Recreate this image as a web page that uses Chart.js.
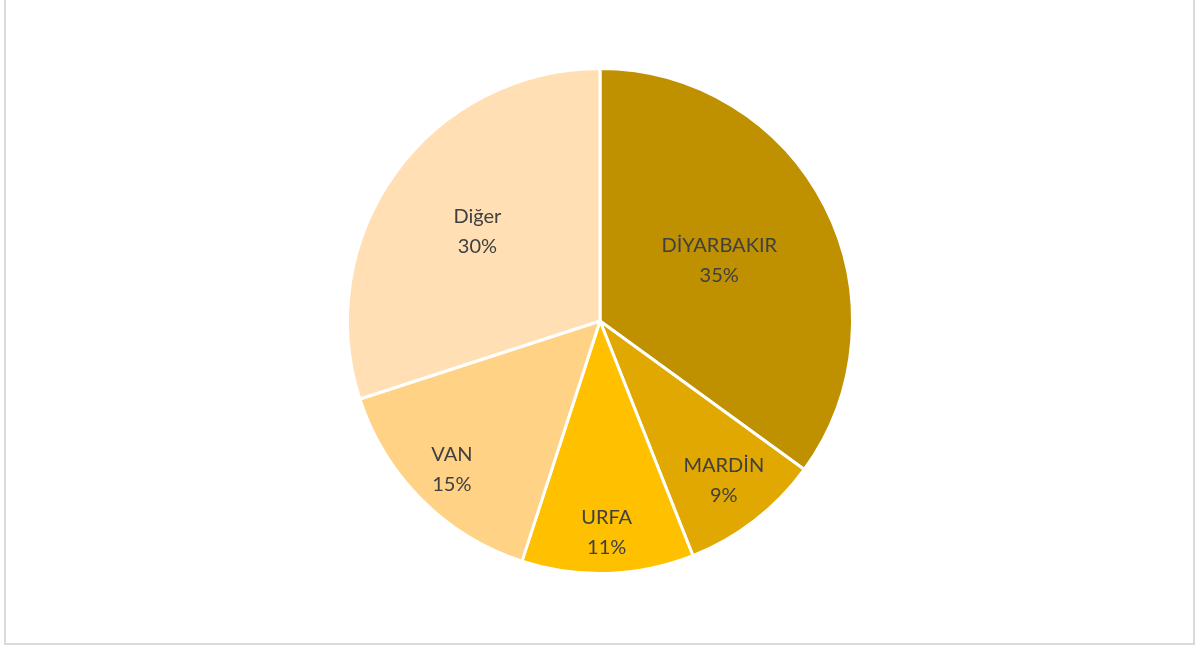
<!DOCTYPE html>
<html>
<head>
<meta charset="utf-8">
<script src="https://cdn.jsdelivr.net/npm/chart.js@4/dist/chart.umd.min.js"></script>
<style>
body{margin:0;background:#fff;}
#wrap{position:relative;width:1197px;height:646px;overflow:hidden;}
#frame{position:absolute;left:4px;top:-2px;width:1187px;height:643px;border:2px solid #d9d9d9;pointer-events:none;}
canvas{position:absolute;left:0;top:0;}
</style>
</head>
<body>
<div id="wrap">
<canvas id="pie" width="1197" height="646"></canvas>
<div id="frame"></div>
</div>
<script>
const labels=["DİYARBAKIR","MARDİN","URFA","VAN","Diğer"];
const values=[35,9,11,15,30];
const colors=["#BF9000","#E0A800","#FFC000","#FFD285","#FFDFB3"];
// how far out from the centre each label sits (fraction of radius)
const labelPos=[0.53,0.80,0.84,0.83,0.60];

const sliceLabels={
    id:'sliceLabels',
    afterDatasetsDraw(chart){
        const ctx=chart.ctx;
        const meta=chart.getDatasetMeta(0);
        const total=values.reduce((a,b)=>a+b,0);
        ctx.save();
        ctx.font='20px Lato, "Open Sans", sans-serif';
        ctx.fillStyle='#404040';
        ctx.textAlign='center';
        ctx.textBaseline='middle';
        meta.data.forEach((arc,i)=>{
            const p=arc.getProps(['x','y','startAngle','endAngle','outerRadius'],true);
            const mid=(p.startAngle+p.endAngle)/2;
            const r=p.outerRadius*labelPos[i];
            const x=p.x+Math.cos(mid)*r;
            const y=p.y+Math.sin(mid)*r;
            ctx.fillText(labels[i],x,y-15);
            ctx.fillText(Math.round(values[i]/total*100)+'%',x,y+15);
        });
        ctx.restore();
    }
};

new Chart(document.getElementById("pie").getContext("2d"),{
    type:'pie',
    data:{labels:labels,datasets:[{data:values,backgroundColor:colors,borderColor:'#ffffff',borderWidth:3}]},
    options:{
        responsive:false,
        animation:false,
        layout:{padding:{top:67,bottom:71,left:3,right:0}},
        plugins:{legend:{display:false},tooltip:{enabled:false}}
    },
    plugins:[sliceLabels]
});
</script>
</body>
</html>
